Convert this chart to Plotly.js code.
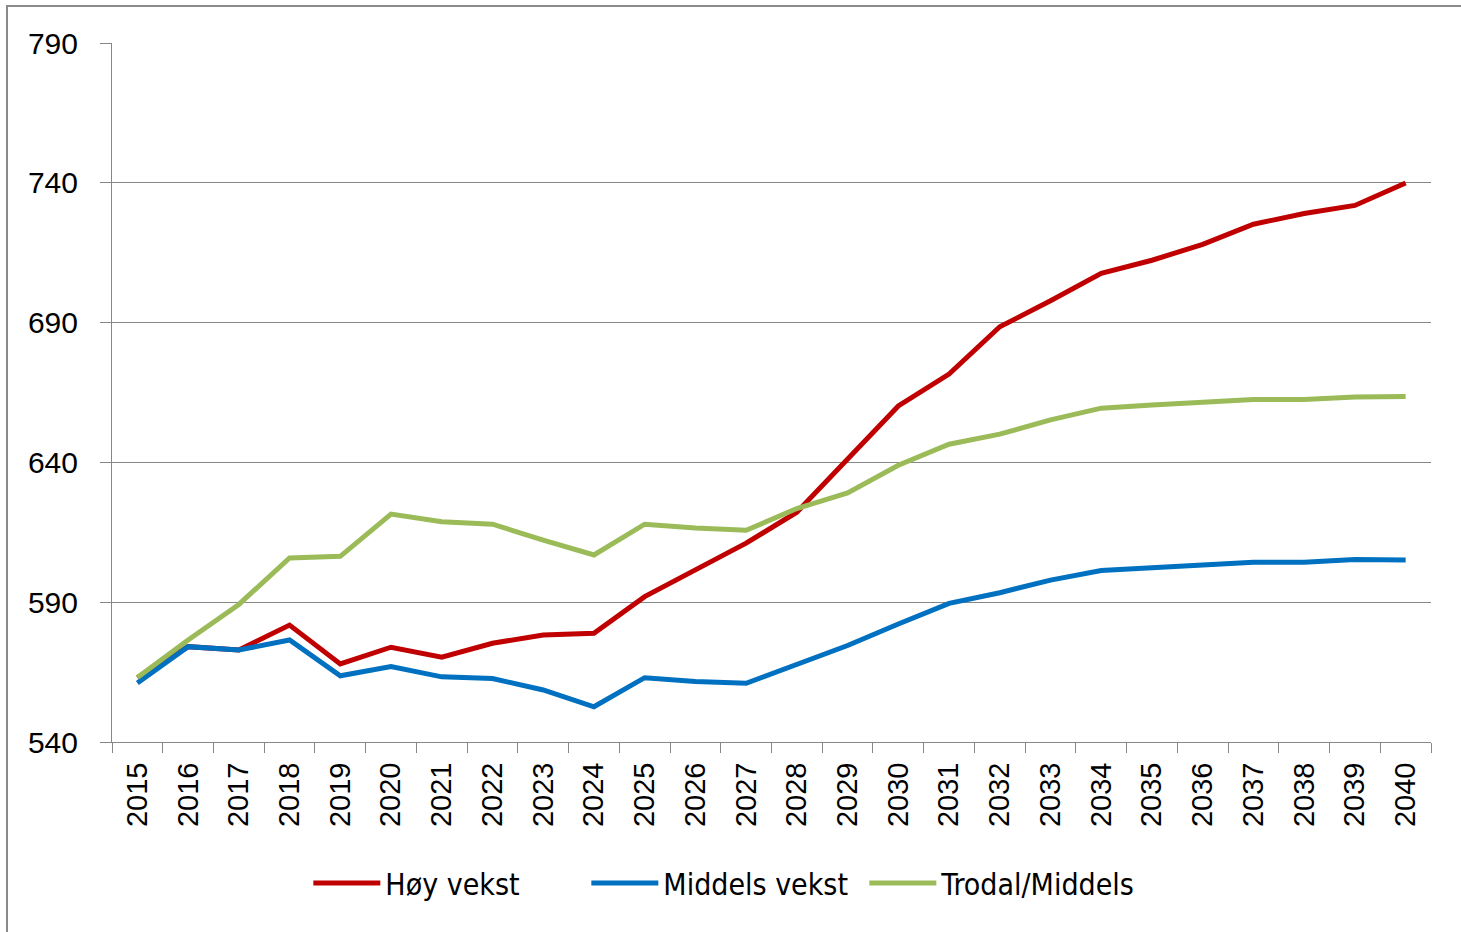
<!DOCTYPE html>
<html>
<head>
<meta charset="utf-8">
<script src="https://cdn.plot.ly/plotly-3.0.1.min.js"></script>
<style>
  html, body { margin: 0; padding: 0; background: #fff; overflow: hidden; }
  #chart { position: absolute; left: 0; top: 0; width: 1461px; height: 932px; }
  #frame { position: absolute; left: 6px; top: 5px; width: 1500px; height: 1000px;
           border: 2px solid #8a8a8a; pointer-events: none; }
</style>
</head>
<body>
<div id="chart"></div>
<div id="frame"></div>
<script>
const years = ["2015","2016","2017","2018","2019","2020","2021","2022","2023","2024","2025","2026","2027",
               "2028","2029","2030","2031","2032","2033","2034","2035","2036","2037","2038","2039","2040"];
const hoyVekst = [563, 574.1, 572.9, 581.8, 567.9, 573.9, 570.3, 575.3, 578.3, 578.9, 592, 601.5, 611.1,
                  622.2, 641, 660.2, 671.6, 688.5, 697.8, 707.6, 712.3, 718, 725.2, 729, 731.9, 739.9];
const middelsVekst = [561.1, 574.1, 572.9, 576.5, 563.7, 567, 563.3, 562.7, 558.6, 552.6, 563, 561.6, 561,
                      567.8, 574.5, 582.2, 589.6, 593.4, 597.9, 601.3, 602.5, 603.3, 604.3, 604.3, 605.3, 605.1];
const trodalMiddels = [563.1, 576.5, 589.2, 605.8, 606.4, 621.5, 618.8, 617.9, 612.2, 606.9, 617.9, 616.5, 615.7,
                       623.5, 629.1, 639, 646.5, 650.1, 655.2, 659.4, 660.5, 661.6, 662.5, 662.5, 663.4, 663.6];
const seriesNames = ["Høy vekst", "Middels vekst", "Trodal/Middels"];
const seriesColors = ["#C00000", "#0070C0", "#9BBB59"];
const yTicks = [540, 590, 640, 690, 740, 790];

const allSeries = [hoyVekst, middelsVekst, trodalMiddels];
const traces = allSeries.map((vals, i) => ({
  type: "scatter", mode: "lines", x: years, y: vals, name: seriesNames[i],
  line: { color: seriesColors[i], width: 5 }
}));

const gridCol = "#878787";
const layout = {
  width: 1461, height: 932,
  margin: { l: 112, r: 30, t: 43, b: 190 },
  paper_bgcolor: "#ffffff", plot_bgcolor: "#ffffff",
  showlegend: true,
  legend: {
    orientation: "h", x: 0.465, xanchor: "center", y: -0.2017, yanchor: "middle",
    font: { family: "DejaVu Sans Condensed, Liberation Sans Narrow, Liberation Sans, sans-serif", size: 30, color: "#000" },
    itemwidth: 67, entrywidth: 196, entrywidthmode: "pixels", tracegroupgap: 0
  },
  xaxis: {
    type: "category", categoryorder: "array", categoryarray: years,
    range: [-0.5, years.length - 0.5],
    tickson: "boundaries", ticks: "outside", ticklen: 10, tickcolor: gridCol, tickwidth: 1,
    showline: true, linecolor: gridCol, linewidth: 1, showgrid: false, zeroline: false,
    tickangle: -90, ticklabelstandoff: 8,
    tickfont: { family: "Liberation Sans, Arial, sans-serif", size: 29, color: "#000" }
  },
  yaxis: {
    range: [540, 790], tickvals: yTicks, ticktext: yTicks.map(String),
    ticks: "outside", ticklen: 11, tickcolor: gridCol, tickwidth: 1,
    showline: true, linecolor: gridCol, linewidth: 1,
    showgrid: true, gridcolor: gridCol, gridwidth: 1, zeroline: false,
    ticklabelstandoff: 16,
    tickfont: { family: "Liberation Sans, Arial, sans-serif", size: 30, color: "#000" }
  }
};

Plotly.newPlot("chart", traces, layout, { displayModeBar: false, staticPlot: true });
</script>
</body>
</html>
